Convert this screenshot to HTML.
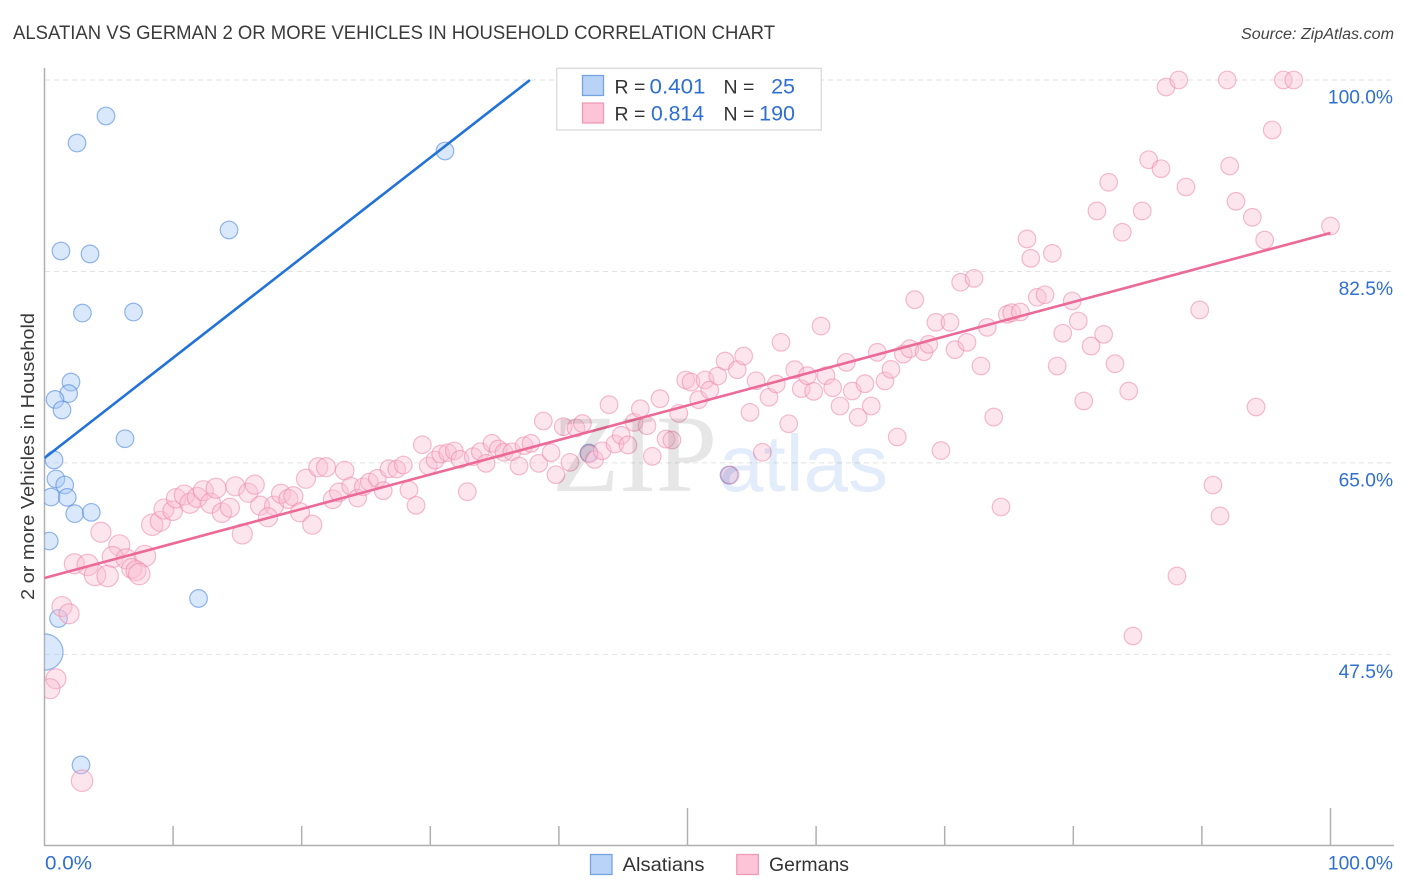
<!DOCTYPE html>
<html lang="en">
<head>
<meta charset="utf-8">
<title>Alsatian vs German 2 or More Vehicles in Household Correlation Chart</title>
<style>
html,body{margin:0;padding:0;background:#fff;width:1406px;height:892px;overflow:hidden}
svg{display:block;font-family:"Liberation Sans",sans-serif}
</style>
</head>
<body>
<svg id="chart" width="1406" height="892" viewBox="0 0 1406 892" xmlns="http://www.w3.org/2000/svg">
  <defs>
    <clipPath id="plot-clip"><rect x="44.5" y="60" width="1362" height="786"/></clipPath>
  </defs>
  <text x="13" y="39" font-size="19" fill="#3a3a3a" textLength="762" lengthAdjust="spacingAndGlyphs">ALSATIAN VS GERMAN 2 OR MORE VEHICLES IN HOUSEHOLD CORRELATION CHART</text>
  <text x="1394" y="39" font-size="15.5" font-style="italic" fill="#444" text-anchor="end" textLength="153" lengthAdjust="spacingAndGlyphs">Source: ZipAtlas.com</text>
  <text transform="translate(34,600) rotate(-90)" font-size="18" fill="#3a3a3a" textLength="287" lengthAdjust="spacingAndGlyphs">2 or more Vehicles in Household</text>
  <g id="grid"></g>
  <g id="axes"></g>
  <g id="marks" clip-path="url(#plot-clip)"></g>
  <g style="mix-blend-mode:multiply">
    <text x="552" y="491" font-family="'Liberation Serif',serif" font-size="110" fill="#e6e6e6">ZIP</text>
    <text x="719" y="491" font-size="80" fill="#e2ecfa">atlas</text>
  </g>
  <g>
    <rect x="556.7" y="68.3" width="264.6" height="61.7" fill="#fff" stroke="#ddd" stroke-width="1.5"/>
    <rect x="582.5" y="75.5" width="21" height="20" fill="#b8d3f6" stroke="#74a3e0" stroke-width="1.3"/>
    <rect x="582.5" y="103" width="21" height="20" fill="#fcc4d6" stroke="#ee9ab6" stroke-width="1.3"/>
    <text x="614.5" y="93.5" font-size="19.5" fill="#333">R =</text>
    <text x="649.5" y="93.5" font-size="21.5" fill="#2f6fd0" textLength="56" lengthAdjust="spacingAndGlyphs">0.401</text>
    <text x="723.5" y="93.5" font-size="19.5" fill="#333">N =</text>
    <text x="795" y="93.5" font-size="21.5" fill="#2f6fd0" text-anchor="end">25</text>
    <text x="614.5" y="120.5" font-size="19.5" fill="#333">R =</text>
    <text x="651" y="120.5" font-size="21.5" fill="#2f6fd0" textLength="53" lengthAdjust="spacingAndGlyphs">0.814</text>
    <text x="723.5" y="120.5" font-size="19.5" fill="#333">N =</text>
    <text x="795" y="120.5" font-size="21.5" fill="#2f6fd0" text-anchor="end">190</text>
  </g>
  <g>
    <rect x="590.5" y="854.5" width="21.5" height="20" fill="#b8d3f6" stroke="#74a3e0" stroke-width="1.3"/>
    <text x="622.5" y="871" font-size="19.5" fill="#333" textLength="82" lengthAdjust="spacingAndGlyphs">Alsatians</text>
    <rect x="736.8" y="854.5" width="21.5" height="20" fill="#fcc4d6" stroke="#ee9ab6" stroke-width="1.3"/>
    <text x="769" y="871" font-size="19.5" fill="#333" textLength="80" lengthAdjust="spacingAndGlyphs">Germans</text>
  </g>
</svg>
<script>
const yTicks = [100, 82.5, 65, 47.5];
const yTickLabels = ["100.0%", "82.5%", "65.0%", "47.5%"];
const xTicks = [0, 10, 20, 30, 40, 50, 60, 70, 80, 90, 100];
const xMajorTicks = [50, 100];
const xEndLabels = ["0.0%", "100.0%"];

const alsatianX = [4.78,2.53,31.14,14.35,1.28,3.54,2.95,6.92,2.06,1.88,0.82,1.36,6.26,0.74,0.89,1.57,0.51,1.77,2.35,3.64,0.37,11.98,1.09,0.04,2.84,53.23,42.34];
const alsatianY = [96.71,94.24,93.51,86.29,84.37,84.10,78.70,78.79,72.39,71.34,70.80,69.84,67.21,65.27,63.53,62.98,61.88,61.85,60.36,60.48,57.86,52.61,50.78,47.71,37.39,63.89,65.90];
const alsatianPop = [1,1,1,1,1,1,1,1,1,1,1,1,1,1,1,1,1,1,1,1,1,1,1,4.2,1,1,1];

const germanX = [4.39,5.82,2.32,3.36,5.30,6.34,7.81,6.78,7.12,7.37,3.93,4.91,8.38,9.00,9.29,9.97,10.23,10.87,11.31,11.88,12.35,12.92,13.34,13.80,14.42,14.84,15.85,16.35,16.76,15.38,17.85,17.38,18.39,18.96,19.35,19.87,20.82,20.33,21.29,21.89,22.41,22.90,23.34,1.36,1.91,0.89,0.43,2.92,
23.81,24.35,24.79,25.26,25.88,26.34,26.79,27.39,27.90,28.34,28.89,29.38,29.84,30.37,30.81,31.35,31.87,32.31,32.88,33.34,33.89,34.33,34.80,35.29,35.73,36.35,36.90,37.29,37.83,38.43,39.39,38.79,39.77,40.34,40.86,41.33,41.83,42.36,42.77,43.37,43.90,44.36,44.85,45.37,45.84,46.33,46.85,47.26,47.86,48.33,48.79,49.32,49.86,50.27,50.87,51.36,51.73,52.35,52.92,53.87,54.37,54.86,55.82,55.33,56.34,56.90,53.30,57.87,57.27,58.34,58.85,59.32,59.81,60.77,60.38,61.29,61.86,62.35,62.81,63.27,63.80,64.29,64.76,65.36,65.82,66.31,66.78,67.28,67.67,68.39,68.76,69.32,70.41,69.71,70.80,71.73,72.82,71.24,72.28,73.31,73.81,74.87,75.21,75.88,76.69,76.40,78.37,77.20,77.80,78.75,79.18,79.92,80.39,80.81,81.38,82.36,83.24,84.31,87.21,88.20,91.97,96.33,97.14,95.47,85.86,86.82,82.75,88.76,92.16,92.65,93.92,94.88,100.0,85.36,81.84,83.81,89.83,74.38,90.86,91.41,88.06,84.64,94.21];
const germanY = [58.66,57.47,55.78,55.67,56.40,56.24,56.49,55.36,55.15,54.84,54.75,54.66,59.35,59.66,60.78,60.63,61.76,62.06,61.31,61.85,62.46,61.31,62.68,60.45,60.90,62.86,62.27,63.01,61.09,58.50,61.09,60.03,62.18,61.70,61.95,60.48,59.35,63.55,64.60,64.60,61.67,62.31,64.29,51.87,51.21,45.27,44.36,35.95,
62.89,61.79,62.82,63.25,63.59,62.46,64.47,64.44,64.81,62.52,61.12,66.66,64.72,65.26,65.81,65.93,66.09,65.33,62.37,65.57,66.02,64.96,66.79,66.27,65.97,66.02,64.72,66.57,66.79,64.96,65.93,68.83,63.92,68.31,65.05,68.19,68.60,65.81,65.31,66.11,70.32,66.73,67.52,66.64,68.71,69.95,68.40,65.60,70.87,67.18,67.09,69.53,72.58,72.39,70.78,72.58,71.66,72.94,74.31,73.52,74.77,69.62,65.97,72.51,71.00,72.21,63.89,68.58,76.02,73.52,71.78,72.97,71.54,72.97,77.51,71.87,70.20,74.19,71.57,69.17,72.24,70.20,75.11,72.49,73.55,67.37,74.95,75.44,79.92,75.16,75.84,77.85,77.85,66.13,75.35,76.02,73.86,81.51,81.87,77.39,69.19,78.58,78.73,78.79,83.70,85.47,84.16,80.14,80.37,73.86,76.85,79.80,77.97,70.66,75.68,76.75,74.07,71.57,99.36,100,100,100,100,95.43,92.71,91.89,90.65,90.22,92.14,88.91,87.45,85.37,86.65,88.03,88.03,86.08,78.98,60.97,62.98,60.15,54.66,49.18,70.11];
const germanPop = [1.29,1.42,1.29,1.48,1.42,1.29,1.48,1.29,1.29,1.48,1.48,1.48,1.48,1.29,1.29,1.22,1.22,1.29,1.29,1.29,1.29,1.29,1.29,1.22,1.17,1.17,1.17,1.17,1.17,1.29,1.17,1.17,1.17,1.17,1.17,1.17,1.17,1.17,1.17,1.17,1.12,1.12,1.12,1.29,1.29,1.29,1.29,1.48];

const alsatianTrendX = [0, 37.75];
const alsatianTrendY = [65.45, 100];
const germanTrendX = [0, 100];
const germanTrendY = [54.48, 86.02];

const SVG_NS = "http://www.w3.org/2000/svg";
const xScale = v => 44.5 + v * 12.86;
const yScale = v => 80 + (100 - v) * 10.94;
const rScale = w => 8.8 * Math.sqrt(w);

const grid = document.getElementById("grid");
const axes = document.getElementById("axes");
const marks = document.getElementById("marks");

function make(tag, attrs, parent) {
  const el = document.createElementNS(SVG_NS, tag);
  for (const k in attrs) el.setAttribute(k, attrs[k]);
  parent.appendChild(el);
  return el;
}

yTicks.forEach((t, i) => {
  const line = make("line", {x1: 45, x2: 1393, y1: yScale(t), y2: yScale(t), stroke: "#e2e2e2", "stroke-width": 1, "stroke-dasharray": "5 4"}, grid);
  
  
  const label = make("text", {x: 1393, y: yScale(t) + 23.5, "font-size": 19.2, fill: "#2f6fd0", "text-anchor": "end"}, axes);
  
  
  label.textContent = yTickLabels[i];
});

const yAxisLine = make("line", {x1: 44.5, x2: 44.5, y1: 68, y2: 846, stroke: "#b0b0b0", "stroke-width": 1.5}, axes);


const xAxisLine = make("line", {x1: 44, x2: 1394, y1: 845.5, y2: 845.5, stroke: "#b0b0b0", "stroke-width": 1.5}, axes);



xTicks.forEach(t => {
  if (t === 0) return;
  const top = xMajorTicks.includes(t) ? 808 : 826;
  const tick = make("line", {x1: xScale(t), x2: xScale(t), y1: top, y2: 845.5, stroke: "#b0b0b0", "stroke-width": 1.5}, axes);
  
  
});

const xLabelLeft = make("text", {x: 45, y: 869.5, "font-size": 19.2, fill: "#2f6fd0", textLength: 47, lengthAdjust: "spacingAndGlyphs"}, axes);


xLabelLeft.textContent = xEndLabels[0];
const xLabelRight = make("text", {x: 1393, y: 869.5, "font-size": 19.2, fill: "#2f6fd0", "text-anchor": "end"}, axes);


xLabelRight.textContent = xEndLabels[1];

alsatianX.forEach((x, i) => {
  const c = make("circle", {cx: xScale(x), cy: yScale(alsatianY[i]), r: rScale(alsatianPop[i]), fill: "rgba(165,200,245,0.42)", stroke: "rgba(80,135,220,0.6)", "stroke-width": 1.2}, marks);
  
  
});

germanX.forEach((x, i) => {
  const w = germanPop[i] === undefined ? 1 : germanPop[i];
  const c = make("circle", {cx: xScale(x), cy: yScale(germanY[i]), r: rScale(w), fill: "rgba(250,190,210,0.4)", stroke: "rgba(235,135,170,0.55)", "stroke-width": 1.2}, marks);
  
  
});

const alsatianTrend = make("line", {x1: xScale(alsatianTrendX[0]), y1: yScale(alsatianTrendY[0]), x2: xScale(alsatianTrendX[1]), y2: yScale(alsatianTrendY[1]), stroke: "#2272d8", "stroke-width": 2.6}, marks);


const germanTrend = make("line", {x1: xScale(germanTrendX[0]), y1: yScale(germanTrendY[0]), x2: xScale(germanTrendX[1]), y2: yScale(germanTrendY[1]), stroke: "#ec6a97", "stroke-width": 2.6}, marks);


</script>
</body>
</html>
